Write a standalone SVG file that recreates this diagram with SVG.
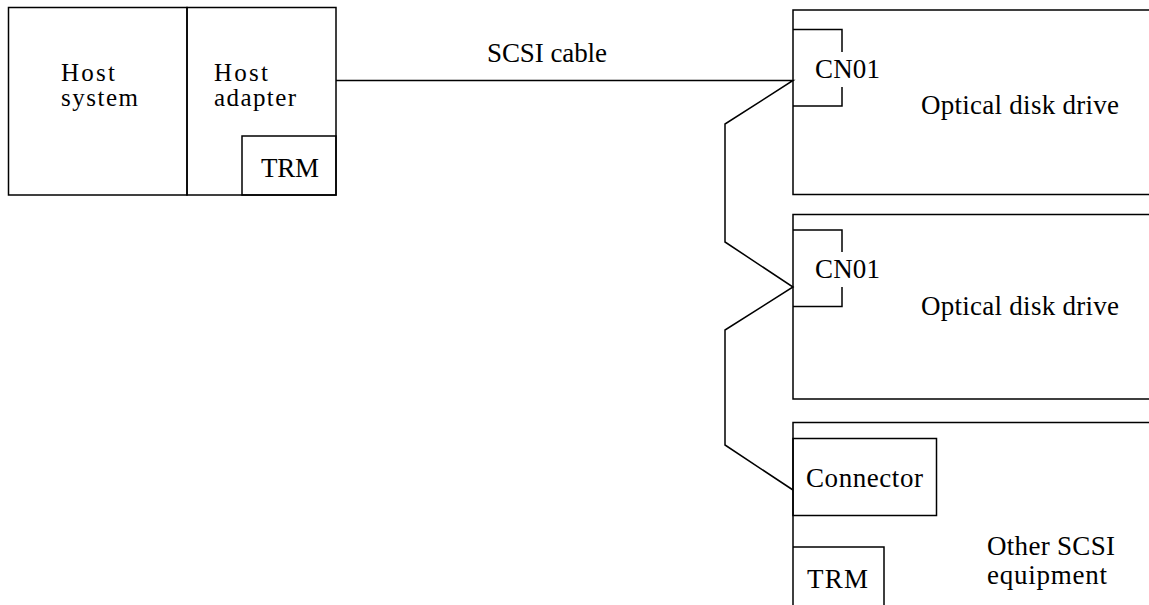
<svg xmlns="http://www.w3.org/2000/svg" width="1149" height="605" viewBox="0 0 1149 605">
<style>
.s{fill:none;stroke:#000;stroke-width:1.5}
.t{font-family:"Liberation Serif","Times New Roman",serif;font-size:27px;fill:#000}
.h{font-size:25px}
</style>
<rect width="1149" height="605" fill="#fff"/>
<g id="host-system">
<rect class="s" x="8.5" y="7.5" width="178.5" height="187.5"/>
<text class="t h" x="61" y="81" textLength="54">Host</text>
<text class="t h" x="61" y="106" textLength="77">system</text>
</g>
<g id="host-adapter">
<rect class="s" x="187" y="7.5" width="149" height="187.5"/>
<text class="t h" x="214" y="81" textLength="54">Host</text>
<text class="t h" x="214" y="106" textLength="82">adapter</text>
</g>
<g id="host-trm">
<rect class="s" x="242" y="136" width="94" height="59"/>
<text class="t" x="261" y="177" textLength="58">TRM</text>
</g>
<g id="drive1">
<path class="s" d="M1149,10 H793 V194.5 H1149"/>
<path class="s" d="M793,29.5 H842 V52 M842,87 V106 H793"/>
<text class="t" x="815" y="78" textLength="65">CN01</text>
<text class="t" x="921" y="114" textLength="198">Optical disk drive</text>
</g>
<g id="drive2">
<path class="s" d="M1149,214.5 H793 V399 H1149"/>
<path class="s" d="M793,230 H842 V252 M842,287 V306.5 H793"/>
<text class="t" x="815" y="278" textLength="65">CN01</text>
<text class="t" x="921" y="315" textLength="198">Optical disk drive</text>
</g>
<g id="other-scsi">
<path class="s" d="M1149,422.5 H793 V605"/>
<rect class="s" x="793" y="438.5" width="143.5" height="77"/>
<text class="t" x="806" y="487" textLength="117">Connector</text>
<path class="s" d="M793,547 H884 V605"/>
<text class="t" x="807" y="588" textLength="61">TRM</text>
<text class="t" x="987" y="555" textLength="128">Other SCSI</text>
<text class="t" x="987" y="584" textLength="120">equipment</text>
</g>
<g id="connectors">
<path class="s" d="M336,80.5 H793 L725,124 V242 L793,287 L725,330 V445 L793,490"/>
<text class="t" x="487" y="62" textLength="120">SCSI cable</text>
</g>
</svg>
